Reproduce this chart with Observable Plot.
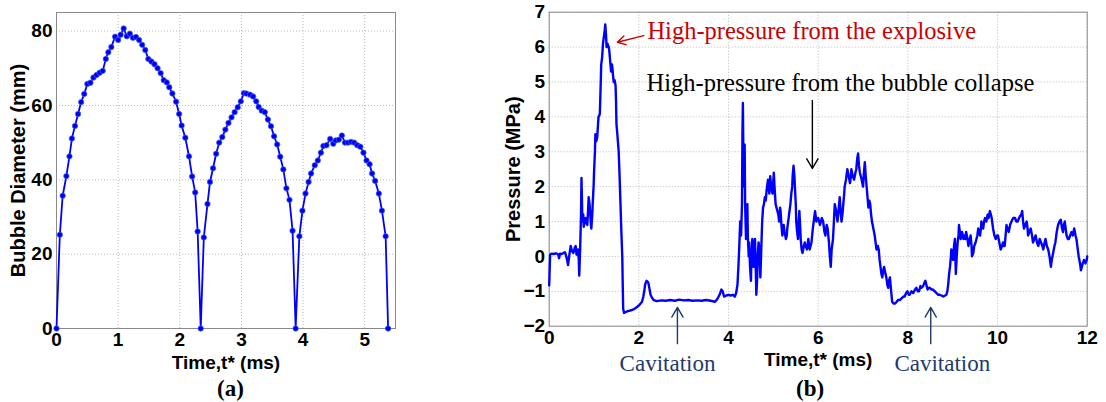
<!DOCTYPE html>
<html>
<head>
<meta charset="utf-8">
<script src="https://cdn.jsdelivr.net/npm/d3@7"></script>
<script src="https://cdn.jsdelivr.net/npm/@observablehq/plot@0.6"></script>
<style>
  body { margin: 0; background: #fff; }
  #wrap { position: relative; width: 1106px; height: 402px; background: #fff; overflow: hidden; }
  .panel { position: absolute; top: 0; }
  .cap { position: absolute; font-family: "Liberation Serif", "Times New Roman", serif; font-weight: bold; font-size: 23px; color: #000; }
</style>
</head>
<body>
<div id="wrap">
  <div id="pa" class="panel" style="left:0px"></div>
  <div id="pb" class="panel" style="left:490px"></div>
  <div class="cap" style="left:217px; top:376px">(a)</div>
  <div class="cap" style="left:796px; top:376px">(b)</div>
</div>
<script>
// ---------- Panel (a): bubble diameter ----------
const diamTime = [0.00,0.054,0.10,0.16,0.21,0.25,0.30,0.35,0.40,0.45,0.50,0.55,0.60,0.65,0.70,0.75,0.80,0.84,0.89,0.95,1.00,1.04,1.09,1.14,1.19,1.24,1.29,1.34,1.39,1.44,1.49,1.54,1.59,1.64,1.69,1.74,1.79,1.83,1.88,1.94,1.99,2.03,2.09,2.15,2.20,2.25,2.29,2.34,
  2.39,2.45,2.49,2.54,2.59,2.64,2.69,2.74,2.79,2.84,2.89,2.94,2.99,3.04,3.08,3.14,3.19,3.24,3.28,3.33,3.38,3.43,3.48,3.53,3.58,3.63,3.68,3.73,3.78,3.83,3.88,
  3.94,3.99,4.04,4.09,4.13,4.19,4.24,4.29,4.33,4.38,4.44,4.49,4.53,4.58,4.63,4.68,4.73,4.78,4.83,4.88,4.93,4.98,5.03,5.08,5.12,5.17,5.23,5.28,5.34,5.38];
const diamValue = [0,25.2,35.7,41.0,46.3,51.1,54.5,57.7,60.9,63.1,65.8,66.1,67.5,68.2,68.8,69.3,72.5,74.3,75.7,78.5,77.6,79.0,80.7,78.6,79.3,78.2,78.4,77.6,76.3,74.9,72.5,71.8,71.1,70.0,68.7,66.8,66.2,64.9,63.2,61.0,57.7,54.6,51.3,46.3,40.9,36.6,26.1,0,
  24.5,33.5,39.4,43.1,47.0,50.0,51.5,53.5,55.3,56.8,58.2,59.5,61.1,63.3,63.2,62.9,62.4,61.1,59.6,58.6,58.2,56.2,54.4,51.7,49.5,46.2,42.8,37.7,34.6,26.3,0,
  24.8,31.7,36.3,39.4,41.7,43.9,45.2,47.3,49.1,49.3,51.0,49.7,50.6,50.8,51.9,50.0,50.0,50.2,50.0,49.3,48.9,47.3,45.2,44.2,41.7,39.7,36.3,31.7,24.8,0];
const aTicksX = [0,1,2,3,4,5];
const aTicksY = [0,20,40,60,80];
const aLabelX = "Time,t* (ms)";
const aLabelY = ["Bubble Diameter (mm)"];

// ---------- Panel (b): pressure ----------
const presTime = [0.00,0.02,0.05,0.10,0.15,0.20,0.22,0.24,0.28,0.32,0.35,0.37,0.40,0.42,0.45,0.48,0.51,0.54,0.57,0.59,0.61,0.64,0.66,0.67,0.69,0.71,0.72,0.74,0.76,0.77,0.79,0.81,0.83,0.85,0.87,0.88,0.90,0.91,0.93,0.94,0.96,0.97,0.99,
  1.00,1.02,1.03,1.05,1.07,1.09,1.10,1.12,1.13,1.15,1.16,1.18,1.20,1.22,1.24,1.25,1.27,1.28,1.30,1.31,1.33,1.34,1.36,1.38,1.40,1.41,1.43,1.44,1.46,1.48,1.49,1.50,1.52,1.55,1.57,1.59,1.61,1.63,1.64,1.65,1.67,1.70,1.75,1.81,1.88,1.96,
  2.02,2.07,2.10,2.12,2.14,2.17,2.19,2.21,2.24,2.26,2.30,2.33,2.40,2.50,2.60,2.70,2.80,2.90,3.00,3.10,3.20,3.30,3.40,3.50,3.60,3.70,3.75,3.80,3.84,3.87,3.90,3.95,
  4.00,4.05,4.10,4.14,4.17,4.20,4.22,4.24,4.26,4.28,4.30,4.31,4.32,4.33,4.34,4.35,4.36,4.37,4.39,4.40,4.42,4.43,4.45,4.46,4.48,4.50,4.51,4.53,4.55,4.56,4.58,4.59,4.61,4.62,4.64,4.65,4.67,4.68,4.70,4.71,4.73,4.75,4.77,4.79,4.81,4.83,4.85,4.88,4.90,4.91,4.93,4.95,4.98,
  5.00,5.01,5.03,5.05,5.07,5.09,5.11,5.13,5.15,5.16,5.18,5.20,5.22,5.23,5.25,5.28,5.30,5.31,5.33,5.35,5.37,5.38,5.40,5.42,5.43,5.45,5.47,5.48,5.50,5.51,5.53,5.55,5.56,5.58,5.60,5.61,5.63,5.65,5.68,5.70,5.72,5.75,5.78,5.81,5.85,5.88,5.93,5.96,
  6.00,6.04,6.08,6.11,6.14,6.16,6.19,6.21,6.24,6.26,6.28,6.30,6.33,6.35,6.37,6.40,6.43,6.46,6.48,6.50,6.52,6.54,6.56,6.58,6.59,6.62,6.65,6.68,6.71,6.73,6.74,6.77,6.80,6.83,6.85,6.87,6.89,6.91,6.93,6.95,6.97,
  7.00,7.02,7.04,7.06,7.08,7.10,7.12,7.14,7.16,7.18,7.20,7.23,7.26,7.28,7.30,7.33,7.35,7.37,7.39,7.41,7.43,7.45,7.47,7.50,7.52,7.54,7.56,7.58,7.60,7.62,7.65,7.68,7.71,7.75,7.78,7.82,7.86,7.90,7.93,7.96,7.99,
  8.02,8.04,8.08,8.12,8.16,8.19,8.22,8.25,8.28,8.30,8.34,8.37,8.39,8.42,8.44,8.47,8.49,8.53,8.56,8.60,8.64,8.68,8.71,8.75,8.79,8.83,8.86,8.88,8.90,8.92,8.94,8.96,8.97,8.99,
  9.01,9.03,9.05,9.07,9.09,9.11,9.13,9.14,9.16,9.18,9.20,9.21,9.24,9.26,9.28,9.30,9.33,9.35,9.38,9.40,9.42,9.43,9.46,9.48,9.51,9.53,9.55,9.57,9.59,9.61,9.63,9.64,9.66,9.68,9.70,9.72,9.75,9.78,9.80,9.83,9.85,9.87,9.89,9.90,9.93,9.96,9.99,
  10.01,10.04,10.07,10.10,10.12,10.14,10.16,10.18,10.20,10.22,10.25,10.28,10.31,10.35,10.39,10.42,10.45,10.48,10.50,10.53,10.55,10.57,10.59,10.62,10.65,10.67,10.68,10.71,10.74,10.77,10.79,10.82,10.85,10.88,10.91,10.94,10.97,
  11.00,11.02,11.05,11.07,11.10,11.13,11.16,11.19,11.21,11.24,11.27,11.29,11.32,11.35,11.38,11.41,11.44,11.46,11.48,11.50,11.52,11.54,11.57,11.59,11.62,11.65,11.68,11.71,11.74,11.76,11.78,11.81,11.84,11.86,11.88,11.90,11.93,11.96,11.99,12.00];
const presValue = [-0.83,0.05,0.08,0.07,0.09,0.06,-0.05,0.08,0.07,0.10,0.12,0.05,-0.10,-0.25,0.05,0.30,0.15,0.10,0.25,0.30,0.05,0.20,-0.10,-0.55,0.20,1.20,2.25,1.00,1.20,0.85,1.05,1.10,0.95,0.90,1.40,1.70,1.50,1.30,0.90,0.80,1.20,1.50,2.00,
  2.40,3.00,3.50,3.30,3.40,3.80,4.00,4.05,4.10,5.00,5.50,5.70,6.10,6.30,6.50,6.65,6.30,6.00,6.10,6.05,6.00,5.90,5.60,5.30,5.50,5.40,5.10,5.00,5.05,4.90,4.50,3.80,3.50,3.00,2.30,1.50,0.70,0.00,-0.80,-1.50,-1.62,-1.60,-1.57,-1.55,-1.52,-1.45,
  -1.38,-1.30,-1.15,-1.00,-0.80,-0.70,-0.72,-0.75,-0.95,-1.10,-1.20,-1.25,-1.28,-1.26,-1.27,-1.25,-1.27,-1.24,-1.26,-1.25,-1.27,-1.26,-1.27,-1.25,-1.27,-1.30,-1.22,-1.10,-0.95,-1.00,-1.15,-1.12,
  -1.10,-1.12,-1.10,-1.15,-1.05,-0.80,-0.30,0.30,1.00,0.60,1.50,3.50,4.40,3.00,2.00,2.80,3.20,1.50,0.50,1.20,1.50,0.60,0.00,0.40,-0.30,-0.70,0.00,0.50,0.20,-0.30,0.30,0.50,-0.50,-1.10,-0.60,0.00,0.40,0.30,-0.20,-0.60,0.20,1.00,1.40,1.50,1.70,1.60,1.90,2.20,1.90,1.80,2.30,2.00,1.80,
  2.20,2.40,1.90,1.50,1.40,1.30,1.20,1.00,1.40,1.30,0.90,0.60,0.80,0.90,0.70,0.50,0.60,0.80,1.00,1.20,1.40,1.50,1.80,2.00,2.30,2.60,2.30,2.00,1.50,1.00,0.70,0.50,0.90,1.30,0.80,0.50,0.20,0.10,0.30,0.40,0.30,0.20,0.50,0.20,0.40,0.80,1.30,1.00,
  1.10,0.90,1.10,1.00,0.70,0.60,0.90,0.80,0.40,0.00,-0.30,0.20,0.50,1.00,1.50,1.30,1.00,1.40,1.70,1.30,1.00,1.20,1.50,1.80,2.00,2.20,2.50,2.30,2.10,2.30,2.50,2.30,2.20,2.40,2.50,2.80,2.95,2.60,2.40,2.30,2.20,
  2.00,2.40,2.70,2.30,2.00,1.70,1.40,1.60,1.50,1.20,1.00,0.80,0.60,0.40,0.20,0.30,0.20,-0.10,-0.30,-0.50,-0.60,-0.40,-0.30,-0.50,-0.60,-0.80,-0.90,-0.70,-0.60,-0.90,-1.30,-1.35,-1.35,-1.30,-1.25,-1.25,-1.20,-1.15,-1.15,-1.05,-1.00,
  -1.10,-1.10,-1.00,-1.05,-0.95,-0.90,-1.00,-1.00,-0.85,-0.90,-0.85,-0.75,-0.70,-0.85,-0.95,-0.90,-0.90,-0.95,-0.95,-1.00,-1.05,-1.10,-1.10,-1.12,-1.15,-1.12,-1.10,-1.00,-0.80,-0.50,-0.30,0.00,0.20,0.00,
  -0.10,0.30,0.50,-0.50,0.00,0.40,0.60,0.90,0.70,0.50,0.60,0.70,0.50,0.60,0.50,0.70,0.50,0.30,0.50,0.60,0.30,0.00,0.10,0.30,0.40,0.50,0.60,0.80,0.70,0.60,0.80,1.00,0.90,0.80,1.00,1.10,1.00,1.20,1.10,1.30,1.20,1.10,0.90,0.80,0.60,0.50,0.60,
  0.60,0.40,0.20,0.30,0.40,0.30,0.30,0.60,0.90,0.80,0.70,0.90,1.00,1.10,1.10,1.00,1.00,1.10,1.15,1.20,1.30,1.00,0.80,0.90,1.00,0.80,0.60,0.70,0.80,0.60,0.40,0.50,0.60,0.40,0.30,0.50,0.40,
  0.30,0.20,0.40,0.50,0.30,0.20,0.00,-0.30,-0.10,0.10,0.30,0.40,0.70,0.90,1.00,1.05,0.80,0.70,0.90,1.00,0.80,0.60,0.50,0.50,0.60,0.70,0.60,0.80,0.60,0.50,0.30,0.00,-0.20,-0.40,-0.30,-0.20,-0.10,-0.20,-0.10,0.00];
const bTicksX = [0,2,4,6,8,10,12];
const bTicksY = [-2,-1,0,1,2,3,4,5,6,7];
const bLabelX = "Time,t* (ms)";
const bLabelY = ["Pressure (MPa)"];

// Annotations (data units of panel b)
const noteText  = ["High-pressure from the explosive", "High-pressure from the bubble collapse", "Cavitation", "Cavitation"];
const noteX     = [2.19, 2.17, 1.57, 7.70];
const noteY     = [6.22, 4.74, -3.27, -3.27];
const noteSize  = [24.5, 24.5, 23, 23];
const noteColor = ["#cc0000", "#000000", "#1f3a6e", "#1f3a6e"];
const arrowX1 = [2.11, 5.87, 2.86, 8.51];
const arrowY1 = [6.33, 4.47, -2.50, -2.50];
const arrowX2 = [1.52, 5.87, 2.86, 8.51];
const arrowY2 = [6.14, 2.52, -1.46, -1.46];
const arrowColor = ["#cc0000", "#000000", "#1f3a6e", "#1f3a6e"];

const diam = diamTime.map((t, i) => ({t, d: diamValue[i]}));
const pres = presTime.map((t, i) => ({t, p: presValue[i]}));
const notes = noteText.map((s, i) => ({s, x: noteX[i], y: noteY[i], c: noteColor[i], f: noteSize[i]}));
const arrows = arrowX1.map((x1, i) => ({x1, y1: arrowY1[i], x2: arrowX2[i], y2: arrowY2[i], c: arrowColor[i]}));

const axisStyle = {fontFamily: "'Liberation Sans', Arial, sans-serif", fontSize: "19px", fontWeight: "bold", background: "white", color: "black", overflow: "visible"};
const gridOpts = {stroke: "#b8b8b8", strokeOpacity: 1, strokeDasharray: "1,2", strokeWidth: 1};
const yLabelOpts = (dx) => ({text: (d) => d, frameAnchor: "left", rotate: -90, dx, fontSize: 20, fontWeight: "bold", fill: "black", textAnchor: "middle", lineAnchor: "middle"});

const chartA = Plot.plot({
  width: 400, height: 402,
  marginLeft: 56, marginRight: 5, marginTop: 12, marginBottom: 74,
  style: axisStyle,
  x: {domain: [0, 5.5]},
  y: {domain: [0, 85]},
  marks: [
    Plot.gridX(aTicksX, gridOpts),
    Plot.gridY(aTicksY, gridOpts),
    Plot.frame({stroke: "#8a8a8a"}),
    Plot.axisX(aTicksX, {tickSize: 0, tickPadding: 4, label: aLabelX, labelAnchor: "center", labelOffset: 40, labelArrow: "none"}),
    Plot.axisY(aTicksY, {tickSize: 0, tickPadding: 4, label: null}),
    Plot.text(aLabelY, yLabelOpts(-38)),
    Plot.line(diam, {x: "t", y: "d", stroke: "#0000ff", strokeWidth: 1.8}),
    Plot.dot(diam, {x: "t", y: "d", r: 2.7, fill: "#0000ee", stroke: "#4060ff", strokeWidth: 0.7})
  ]
});
document.getElementById("pa").append(chartA);

const chartB = Plot.plot({
  width: 616, height: 402,
  marginLeft: 58.7, marginRight: 19.3, marginTop: 11.7, marginBottom: 76.3,
  style: axisStyle,
  x: {domain: [0, 12]},
  y: {domain: [-2, 7]},
  marks: [
    Plot.gridX(bTicksX, gridOpts),
    Plot.gridY(bTicksY, gridOpts),
    Plot.frame({stroke: "#8a8a8a"}),
    Plot.axisX(bTicksX, {tickSize: 0, tickPadding: 4, label: bLabelX, labelAnchor: "center", labelOffset: 40, labelArrow: "none"}),
    Plot.axisY(bTicksY, {tickSize: 0, tickPadding: 4, label: null}),
    Plot.text(bLabelY, yLabelOpts(-36)),
    Plot.line(pres, {x: "t", y: "p", stroke: "#0000ff", strokeWidth: 2.4, strokeLinejoin: "round"}),
    Plot.arrow(arrows, {x1: "x1", y1: "y1", x2: "x2", y2: "y2", stroke: "c", strokeWidth: 1.4, headLength: 12, headAngle: 60, insetStart: 0, insetEnd: 0}),
    Plot.text(notes, {x: "x", y: "y", text: "s", fill: "c", fontSize: "f", textAnchor: "start", lineAnchor: "bottom", fontFamily: "'Liberation Serif', 'Times New Roman', serif", fontWeight: "normal"})
  ]
});
document.getElementById("pb").append(chartB);
</script>
</body>
</html>
